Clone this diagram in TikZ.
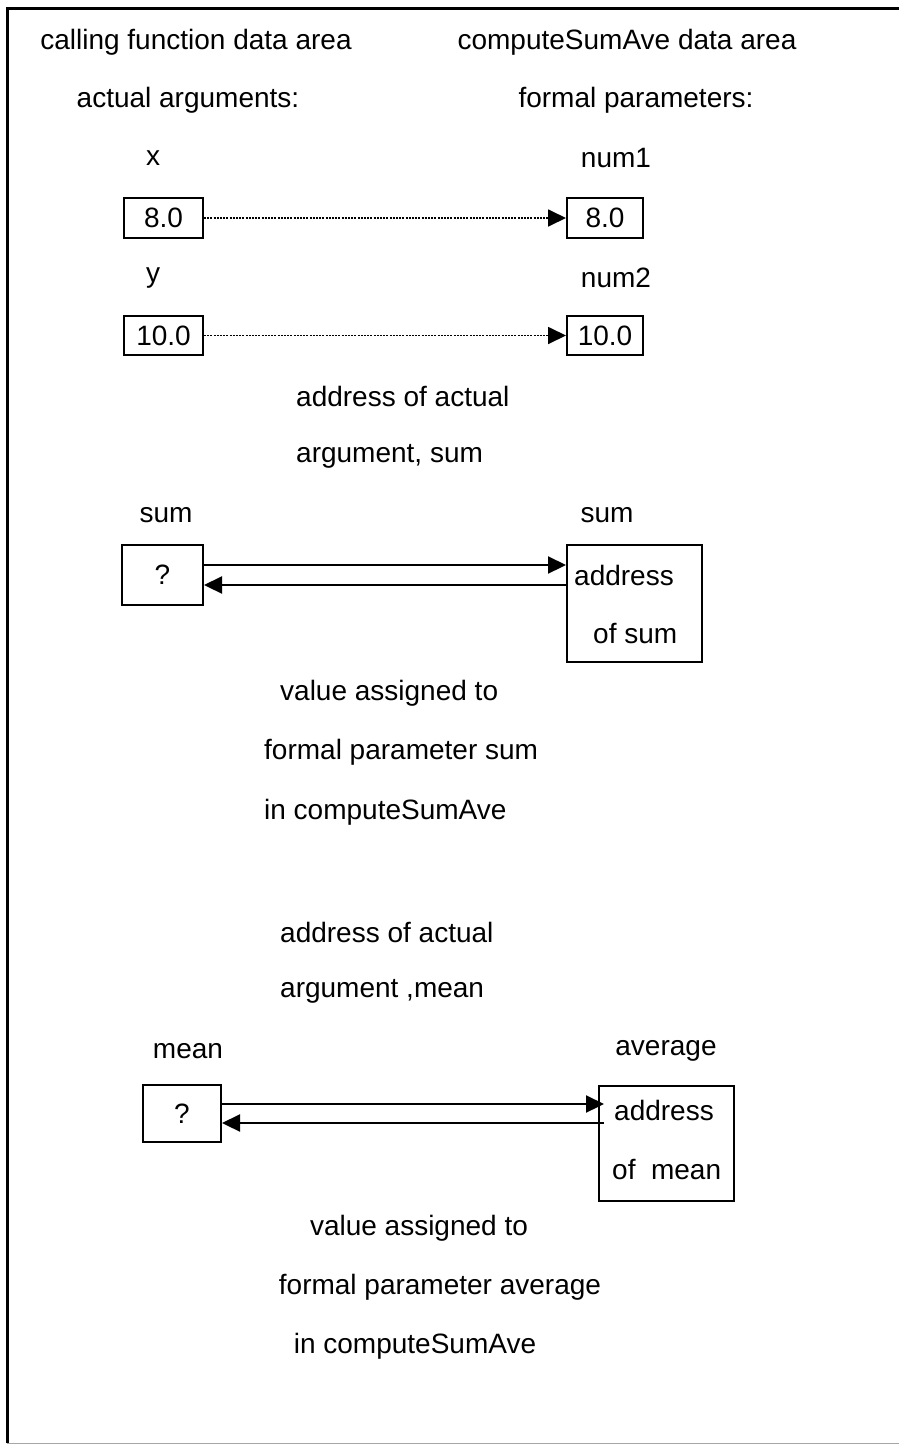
\documentclass[tikz,border=0pt]{standalone}
\usepackage{fontspec}
\setmainfont{Liberation Sans}
\usetikzlibrary{arrows.meta,calc}
\begin{document}
\begin{tikzpicture}[x=1pt,y=-1pt,
  lbl/.style={inner sep=0pt,font=\fontsize{28}{32}\selectfont},
  lbll/.style={lbl,anchor=west},
  valbox/.style={draw,line width=2pt,inner sep=0pt,font=\fontsize{28}{32}\selectfont},
  dotarr/.style={line width=1.8pt,dash pattern=on 2pt off 1.2pt,-{Triangle[length=18pt,width=17pt]}},
  solarr/.style={line width=2.2pt,-{Triangle[length=18pt,width=17pt]}}
]
\useasboundingbox (0,0) rectangle (899,1446);
% frame
\draw[line width=3pt] (7,1443) -- (7,8) -- (899,8);
\draw[line width=1pt,black!35] (7,1443) -- (899,1443);

% headers
\node[lbl] (h1) at (196,42) {calling function data area};
\node[lbl] (h2) at (627,42) {computeSumAve data area};
\node[lbl] (h3) at (188,100) {actual arguments:};
\node[lbl] (h4) at (636,100) {formal parameters:};

% x / num1
\node[lbl] (lx) at (153,158) {x};
\node[lbl] (ln1) at (616,158) {num1};
\node[valbox,minimum width=79pt,minimum height=40pt] (bx) at (163.5,218) {8.0};
\node[valbox,minimum width=76pt,minimum height=40pt] (bn1) at (605,218) {8.0};
\draw[dotarr] (bx.east) -- (bn1.west);

% y / num2
\node[lbl] (ly) at (153,278) {y};
\node[lbl] (ln2) at (616,278) {num2};
\node[valbox,minimum width=79pt,minimum height=39pt] (by) at (163.5,335.5) {10.0};
\node[valbox,minimum width=76pt,minimum height=39pt] (bn2) at (605,335.5) {10.0};
\draw[dotarr] (by.east) -- (bn2.west);

% sum
\node[lbll] (t1) at (296,396) {address of actual};
\node[lbll] (t2) at (296,456) {argument, sum};
\node[lbl] (lsum) at (166,515) {sum};
\node[lbl] (rsum) at (607,515) {sum};
\node[valbox,minimum width=81pt,minimum height=60pt] (bsum) at (162.5,575) {?};
\node[draw,line width=2pt,minimum width=135pt,minimum height=117pt,inner sep=0pt] (rsbox) at (634.5,603.5) {};
\node[lbll] (rs1) at (574,575) {address};
\node[lbll] (rs2) at (593,633) {of sum};
\draw[solarr] ($(bsum.east)+(0,-10)$) -- ($(rsbox.west |- bsum.east)+(0,-10)$);
\draw[solarr] ($(rsbox.west |- bsum.east)+(0,10)$) -- ($(bsum.east)+(0,10)$);

\node[lbll] (t3) at (280,693) {value assigned to};
\node[lbll] (t4) at (264,752) {formal parameter sum};
\node[lbll] (t5) at (264,812) {in computeSumAve};

% mean
\node[lbll] (t6) at (280,932) {address of actual};
\node[lbll] (t7) at (280,991) {argument ,mean};
\node[lbl] (lmean) at (188,1051) {mean};
\node[lbl] (ravg) at (666,1051) {average};
\node[valbox,minimum width=78pt,minimum height=57pt] (bmean) at (182,1113.5) {?};
\node[draw,line width=2pt,minimum width=135pt,minimum height=115pt,inner sep=0pt] (rmbox) at (666.5,1143.5) {};
\node[lbll] (rm1) at (614,1110) {address};
\node[lbll] (rm2) at (612,1169) {of\ \ mean};
\draw[solarr] ($(bmean.east)+(0,-9.5)$) -- ($(rmbox.west |- bmean.east)+(6,-9.5)$);
\draw[solarr] ($(rmbox.west |- bmean.east)+(6,9.5)$) -- ($(bmean.east)+(0,9.5)$);

\node[lbl] (t8) at (419,1228) {value assigned to};
\node[lbl] (t9) at (440,1287) {formal parameter average};
\node[lbl] (t10) at (415,1346) {in computeSumAve};
\end{tikzpicture}
\end{document}
